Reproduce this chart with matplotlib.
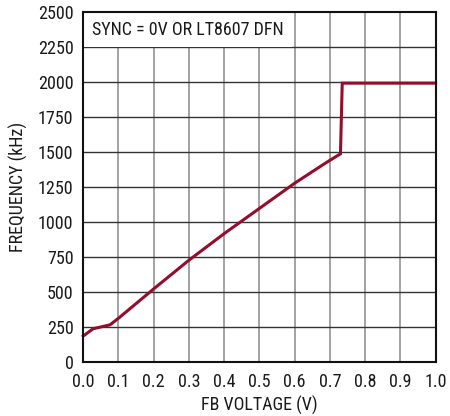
import matplotlib
matplotlib.use("Agg")
import matplotlib.pyplot as plt
import numpy as np

plt.rcParams['font.family'] = ['Roboto Condensed', 'DejaVu Sans']

# FB voltage (V) vs switching frequency (kHz)
fb_voltage = [0.0, 0.028, 0.076, 0.1, 0.2, 0.3, 0.4, 0.5, 0.6, 0.69, 0.73, 0.735, 1.0]
frequency = [188, 240, 268, 315, 525, 730, 920, 1100, 1280, 1428, 1490, 1995, 1995]

x_ticks = [0.0, 0.1, 0.2, 0.3, 0.4, 0.5, 0.6, 0.7, 0.8, 0.9, 1.0]
y_ticks = [0, 250, 500, 750, 1000, 1250, 1500, 1750, 2000, 2250, 2500]
note = "SYNC = 0V OR LT8607 DFN"

fig = plt.figure(figsize=(4.5, 4.16), dpi=100)
ax = fig.add_axes([0.185, 0.129, 0.783, 0.841])

ax.plot(fb_voltage, frequency, color='#930d2d', lw=2.2, zorder=4,
        solid_joinstyle='miter', clip_on=False)

ax.set_xlim(0, 1.0)
ax.set_ylim(0, 2500)
ax.set_xticks(x_ticks)
ax.set_xticklabels(['%.1f' % v for v in x_ticks])
ax.set_yticks(y_ticks)
ax.set_yticklabels([str(v) for v in y_ticks])
ax.tick_params(length=0, labelsize=13, colors='#1a1a1a')
ax.tick_params(axis='x', pad=8)
ax.tick_params(axis='y', pad=7)

# horizontal grid darker than vertical
for v in x_ticks[1:-1]:
    ax.axvline(v, color='#8a8a8a', lw=1.1, zorder=1)
for v in y_ticks[1:-1]:
    ax.axhline(v, color='#333333', lw=1.0, zorder=1)

for s in ax.spines.values():
    s.set_linewidth(1.5)
    s.set_color('#111111')
    s.set_zorder(5)

ax.text(0.025, 2375, note, fontsize=13, va='center', ha='left', color='#1a1a1a',
        zorder=3, bbox=dict(facecolor='white', edgecolor='none', pad=6))

# x label placed by hand so it sits near the bottom edge like the original
fig.text(0.185 + 0.783 / 2, 11 / 416, 'FB VOLTAGE (V)', fontsize=13,
         color='#1a1a1a', ha='center', va='center')
ax.set_ylabel('FREQUENCY (kHz)', fontsize=13, color='#1a1a1a', labelpad=7)

fig.savefig('out.png', dpi=100)
